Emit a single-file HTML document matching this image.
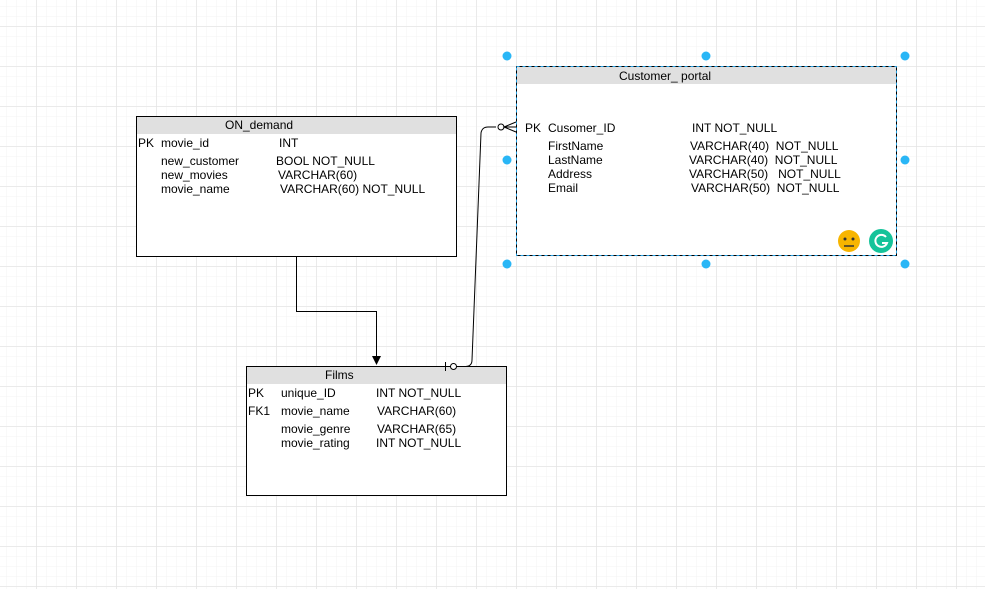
<!DOCTYPE html>
<html><head><style>
body{margin:0;width:985px;height:589px;overflow:hidden;background:#fff;}
svg text{font-family:"Liberation Sans",Arial,sans-serif;font-size:12px;fill:#000;white-space:pre;}
</style></head><body>
<svg width="985" height="589" xmlns="http://www.w3.org/2000/svg">
<defs>
<pattern id="minor" x="6" y="6" width="10" height="10" patternUnits="userSpaceOnUse">
<path d="M0 0H10M0 0V10" stroke="#f3f3f3" stroke-width="1" fill="none"/></pattern>
<pattern id="major" x="36.5" y="26.5" width="40" height="40" patternUnits="userSpaceOnUse">
<path d="M0 0H40M0 0V40" stroke="#e0e0e0" stroke-width="1" fill="none"/></pattern>
</defs>
<rect width="985" height="589" fill="url(#minor)"/>
<rect width="985" height="589" fill="url(#major)"/>

<!-- ON_demand -->
<rect x="136.5" y="116.5" width="320" height="140" fill="#fff" stroke="#000"/>
<rect x="137" y="117" width="319" height="17" fill="#e0e0e0"/>
<text x="225" y="129">ON_demand</text>
<text x="138" y="147">PK</text><text x="161" y="147">movie_id</text><text x="279" y="147">INT</text>
<text x="161" y="165">new_customer</text><text x="276" y="165">BOOL NOT_NULL</text>
<text x="161" y="179">new_movies</text><text x="278" y="179">VARCHAR(60)</text>
<text x="161" y="193">movie_name</text><text x="280" y="193">VARCHAR(60) NOT_NULL</text>

<!-- Customer portal -->
<rect x="516.5" y="66.5" width="380" height="189" fill="#fff" stroke="#000"/>
<rect x="516.5" y="66.5" width="380" height="189" fill="none" stroke="#29a3e6" stroke-dasharray="3,3"/>
<rect x="517" y="67" width="379" height="17" fill="#e0e0e0"/>
<text x="619" y="80">Customer_ portal</text>
<text x="525" y="132">PK</text><text x="548" y="132">Cusomer_ID</text><text x="692" y="132">INT NOT_NULL</text>
<text x="548" y="150">FirstName</text><text x="690" y="150">VARCHAR(40)  NOT_NULL</text>
<text x="548" y="164">LastName</text><text x="689" y="164">VARCHAR(40)  NOT_NULL</text>
<text x="548" y="178">Address</text><text x="689" y="178">VARCHAR(50)   NOT_NULL</text>
<text x="548" y="192">Email</text><text x="691" y="192">VARCHAR(50)  NOT_NULL</text>
<circle cx="849" cy="241" r="11" fill="#f7b500"/>
<circle cx="845" cy="239" r="1.5" fill="#333"/><circle cx="853" cy="239" r="1.5" fill="#333"/>
<line x1="844" y1="246" x2="854" y2="246" stroke="#333" stroke-width="1.5"/>
<circle cx="881" cy="241" r="12" fill="#15c39a"/>
<path d="M886 237 A6 6 0 1 0 887 243 L882 243" stroke="#fff" stroke-width="2" fill="none"/>

<!-- Films -->
<rect x="246.5" y="366.5" width="260" height="129" fill="#fff" stroke="#000"/>
<rect x="247" y="367" width="259" height="17" fill="#e0e0e0"/>
<text x="325" y="379">Films</text>
<text x="248" y="397">PK</text><text x="281" y="397">unique_ID</text><text x="376" y="397">INT NOT_NULL</text>
<text x="248" y="415">FK1</text><text x="281" y="415">movie_name</text><text x="377" y="415">VARCHAR(60)</text>
<text x="281" y="433">movie_genre</text><text x="377" y="433">VARCHAR(65)</text>
<text x="281" y="447">movie_rating</text><text x="376" y="447">INT NOT_NULL</text>

<!-- connector 1 -->
<path d="M296.5 257 V311.5 H376.5 V358" stroke="#000" fill="none"/>
<path d="M372 356 L381 356 L376.5 365 Z" fill="#000"/>

<!-- connector 2 -->
<path d="M457 366.5 H466 Q472 366 472 360 L481 133 Q482 127 488 127 H496" stroke="#000" fill="none"/>
<line x1="441" y1="366.5" x2="450" y2="366.5" stroke="#000"/>
<line x1="445.5" y1="362" x2="445.5" y2="371" stroke="#000"/>
<circle cx="453.5" cy="366.5" r="3" fill="#fff" stroke="#000"/>
<circle cx="501" cy="127" r="3" fill="#fff" stroke="#000"/>
<path d="M516 122 L504 127 L516 132 M504 127 H516" stroke="#000" fill="none"/>

<!-- handles -->
<g fill="#29b6f6">
<circle cx="507" cy="56" r="4.5"/><circle cx="706" cy="56" r="4.5"/><circle cx="905" cy="56" r="4.5"/>
<circle cx="507" cy="160" r="4.5"/><circle cx="905" cy="160" r="4.5"/>
<circle cx="507" cy="264" r="4.5"/><circle cx="706" cy="264" r="4.5"/><circle cx="905" cy="264" r="4.5"/>
</g>
</svg>
</body></html>
